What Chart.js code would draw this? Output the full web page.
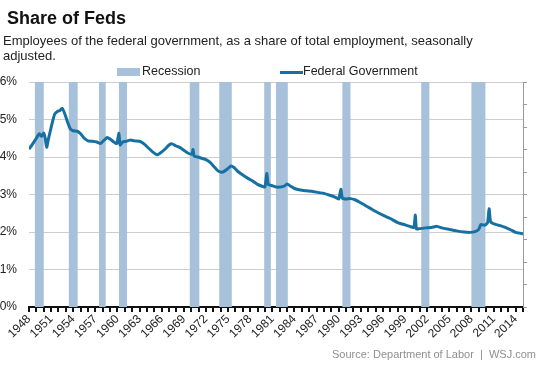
<!DOCTYPE html>
<html>
<head>
<meta charset="utf-8">
<script src="https://cdn.jsdelivr.net/npm/chart.js@4.4.1/dist/chart.umd.min.js"></script>
<style>
    body { margin: 0; background: #fff; font-family: "Liberation Sans", Arial, sans-serif; }
    #wrap { position: relative; width: 553px; height: 369px; overflow: hidden; }
    #chart { position: absolute; left: 0; top: 0; }
    .title { position: absolute; left: 7px; top: 8px; font-size: 18px; font-weight: bold; color: #111; }
    .sub { position: absolute; left: 3px; top: 33px; font-size: 13px; line-height: 15px; color: #222; width: 490px; }
    .legend { position: absolute; top: 64px; font-size: 12.5px; color: #222; }
    .swatch { position: absolute; }
    .source { position: absolute; right: 17px; top: 348px; font-size: 11px; color: #8f8f8f; }
</style>
</head>
<body>
<div id="wrap">
    <canvas id="chart" width="553" height="369"></canvas>
    <div class="title">Share of Feds</div>
    <div class="sub">Employees of the federal government, as a share of total employment, seasonally adjusted.</div>
    <div class="swatch" style="left:117px; top:68px; width:23px; height:8px; background:#a7c1da;"></div>
    <div class="legend" style="left:142px;">Recession</div>
    <div class="swatch" style="left:280px; top:71px; width:23px; height:3px; background:#1670a1;"></div>
    <div class="legend" style="left:303px;">Federal Government</div>
    <div class="source">Source: Department of Labor&nbsp; |&nbsp; WSJ.com</div>
</div>
<script>
// federal employees as % of total employment
const years = [
    1948.0, 1948.5, 1949.0, 1949.4, 1949.7, 1950.0, 1950.2, 1950.4, 1950.6, 1950.9,
    1951.2, 1951.5, 1951.9, 1952.2, 1952.5, 1952.8, 1953.2, 1953.6, 1954.0, 1954.6,
    1955.0, 1955.5, 1956.0, 1956.6, 1957.2, 1957.7, 1958.2, 1958.6, 1959.0, 1959.5,
    1959.9, 1960.2, 1960.35, 1960.7, 1961.2, 1961.7, 1962.3, 1963.0, 1963.6, 1964.2,
    1964.8, 1965.4, 1965.9, 1966.5, 1967.0, 1967.4, 1967.9, 1968.5, 1969.0, 1969.6,
    1970.1, 1970.25, 1970.4, 1970.9, 1971.5, 1972.0, 1972.6, 1973.2, 1973.7, 1974.3,
    1974.9, 1975.4, 1975.8, 1976.3, 1977.0, 1977.7, 1978.4, 1979.0, 1979.6, 1980.0,
    1980.25, 1980.45, 1980.9, 1981.5, 1982.1, 1982.6, 1983.0, 1983.5, 1984.0, 1984.8,
    1985.6, 1986.5, 1987.3, 1988.0, 1988.8, 1989.5, 1990.0, 1990.3, 1990.5, 1991.0,
    1991.6, 1992.2, 1992.8, 1993.5, 1994.3, 1995.1, 1996.0, 1997.0, 1998.0, 1999.0,
    1999.8, 2000.2, 2000.4, 2000.55, 2001.0, 2001.8, 2002.6, 2003.3, 2004.0, 2005.0,
    2006.0, 2007.0, 2007.8, 2008.5, 2009.0, 2009.3, 2009.8, 2010.2, 2010.4, 2010.6,
    2011.0, 2011.7, 2012.5, 2013.3, 2014.0, 2014.6, 2015.0
];
const fedShare = [
    4.21, 4.35, 4.50, 4.62, 4.55, 4.64, 4.50, 4.26, 4.45, 4.70,
    4.95, 5.15, 5.22, 5.24, 5.30, 5.18, 4.95, 4.75, 4.70, 4.68,
    4.62, 4.50, 4.43, 4.42, 4.40, 4.36, 4.45, 4.52, 4.48, 4.40,
    4.36, 4.63, 4.32, 4.40, 4.42, 4.45, 4.43, 4.42, 4.35, 4.24,
    4.13, 4.06, 4.12, 4.22, 4.32, 4.35, 4.30, 4.25, 4.18, 4.10,
    4.08, 4.20, 4.02, 4.00, 3.96, 3.93, 3.85, 3.72, 3.62, 3.60,
    3.68, 3.76, 3.72, 3.62, 3.52, 3.43, 3.35, 3.27, 3.22, 3.20,
    3.56, 3.27, 3.24, 3.20, 3.20, 3.22, 3.28, 3.22, 3.16, 3.12,
    3.10, 3.08, 3.05, 3.03, 2.98, 2.93, 2.88, 3.14, 2.90, 2.88,
    2.89, 2.86, 2.80, 2.72, 2.63, 2.54, 2.45, 2.36, 2.25, 2.19,
    2.14, 2.12, 2.45, 2.08, 2.09, 2.11, 2.12, 2.15, 2.11, 2.07,
    2.03, 2.00, 1.99, 2.01, 2.07, 2.20, 2.18, 2.25, 2.62, 2.28,
    2.22, 2.18, 2.13, 2.06, 1.99, 1.97, 1.95
];

// recession shading, decimal years
const recStart = [1948.8, 1953.4, 1957.5, 1960.2, 1969.8, 1973.8, 1979.9, 1981.5, 1990.5, 2001.2, 2008.0];
const recEnd   = [1950.0, 1954.6, 1958.4, 1961.3, 1971.1, 1975.5, 1980.8, 1983.1, 1991.6, 2002.3, 2009.9];

const firstYear = 1948;
const lastYear = 2015;
const labelEvery = 3;

const recessionBars = {
    id: 'recessionBars',
    beforeDatasetsDraw(chart) {
        const { ctx, chartArea, scales } = chart;
        ctx.save();
        ctx.fillStyle = '#a7c1da';
        for (let i = 0; i < recStart.length; i++) {
            const x1 = scales.x.getPixelForValue(recStart[i]);
            const x2 = scales.x.getPixelForValue(recEnd[i]);
            ctx.fillRect(x1, chartArea.top, x2 - x1, chartArea.bottom - chartArea.top);
        }
        ctx.restore();
    }
};

const font = { family: '"Liberation Sans", Arial, sans-serif', size: 12 };

new Chart(document.getElementById('chart'), {
    type: 'line',
    data: {
        datasets: [{
            label: 'Federal Government',
            data: years.map((x, i) => ({ x: x, y: fedShare[i] })),
            borderColor: '#1670a1',
            borderWidth: 3,
            pointRadius: 0,
            tension: 0.2,
            fill: false
        }]
    },
    options: {
        responsive: false,
        animation: false,
        layout: { padding: { top: 82, left: 0, right: 0, bottom: 0 } },
        plugins: { legend: { display: false }, tooltip: { enabled: false } },
        scales: {
            x: {
                type: 'linear',
                min: firstYear,
                max: lastYear,
                afterFit: (s) => { s.height = 62; },
                grid: { drawOnChartArea: false, drawTicks: true, tickLength: 5, color: '#111', lineWidth: 2 },
                border: { color: '#111', width: 2 },
                ticks: {
                    stepSize: 1,
                    autoSkip: false,
                    maxRotation: 45,
                    minRotation: 45,
                    padding: 0,
                    color: '#222',
                    font: font,
                    callback: (v) => ((v - firstYear) % labelEvery === 0 ? String(v) : '')
                }
            },
            y: {
                min: 0,
                max: 6,
                position: 'left',
                afterFit: (s) => { s.width = 29; },
                grid: { color: '#cdcdcd', lineWidth: 1, drawTicks: false },
                border: { display: false },
                ticks: { stepSize: 1, padding: 12, color: '#222', font: font, callback: (v) => v + '%' }
            },
            y2: {
                min: 0,
                max: 10,
                position: 'right',
                afterFit: (s) => { s.width = 30; },
                grid: { drawOnChartArea: false, drawTicks: true, tickLength: 4, color: '#9a9a9a' },
                border: { color: '#9a9a9a', width: 1 },
                ticks: { stepSize: 1, padding: 0, font: font, callback: () => '' }
            }
        }
    },
    plugins: [recessionBars]
});
</script>
</body>
</html>
